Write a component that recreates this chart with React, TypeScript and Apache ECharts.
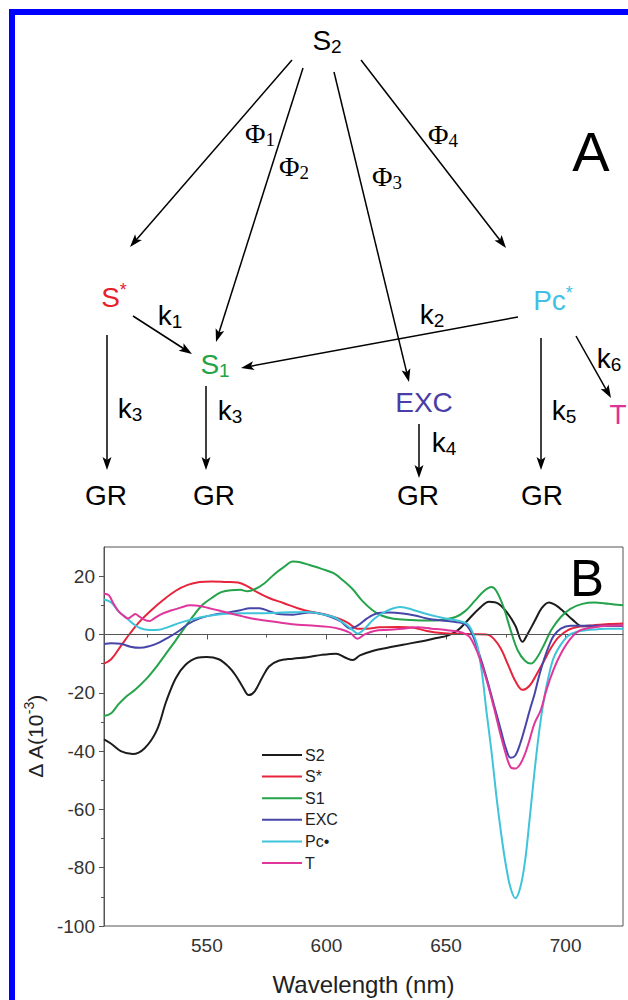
import React, { useEffect, useRef } from "react";
import * as echarts from "echarts";

// ---------------- chart data (panel B) ----------------
const SERIES_NAMES = ["S2", "S*", "S1", "EXC", "Pc•", "T"];
const SERIES_COLORS = ["#1c1c1c", "#e8243c", "#24a34b", "#4646a8", "#40c4da", "#e0369c"];

const S2_DATA: [number, number][] = [
  [507, -36], [510, -37.5], [514, -40], [519, -41], [524, -39], [529, -33], [533, -23], [537, -15],
  [541, -10.5], [546, -8], [550, -7.7], [555, -8.5], [559, -11], [562, -14], [565, -18], [567.5, -20.8],
  [570, -19.5], [573, -15], [576, -11], [580, -9], [586, -8.3], [592, -7.8], [598, -7], [604, -6.6],
  [608, -8], [611, -8.8], [614, -7.2], [620, -5.5], [626, -4.5], [632, -3.5], [640, -2.3], [646, -1.2],
  [651, -0.3], [655, 1.5], [659, 4.8], [664, 9], [668, 11.2], [672, 10.5], [676, 7], [679, 3],
  [682, -2.5], [684, 0], [687, 4.5], [690, 9], [693, 11], [696, 10], [699, 8], [703, 5], [707, 2.8],
  [712, 2.8], [718, 3], [724, 3],
];
const SSTAR_DATA: [number, number][] = [
  [507, -10], [510, -8.5], [514, -4], [518, 0.5], [522, 4.5], [527, 8.5], [532, 12], [537, 15],
  [542, 17], [547, 18], [552, 18.2], [558, 18], [563, 17.8], [567, 16.5], [571, 14.5], [576, 12.5],
  [582, 10.8], [588, 9], [594, 7.7], [600, 6.8], [605, 5.5], [609, 4], [613, 2], [617, 2], [622, 2.5],
  [630, 2.6], [636, 2.4], [642, 1.2], [648, 0.5], [655, 0.2], [662, 0.1], [667, 0], [670, -1.5],
  [673, -5], [676, -10.5], [679, -16], [682, -19], [685, -17.5], [688, -13.5], [691, -9], [694, -4.5],
  [697, -1], [701, 1.5], [706, 2.7], [712, 3.2], [718, 3.6], [724, 3.8],
];
const S1_DATA: [number, number][] = [
  [507, -28], [510, -27], [513, -24], [516, -21.5], [520, -19], [525, -15], [529, -11], [533, -6.5],
  [537, -2], [540, 1.5], [544, 6], [548, 10], [552, 12.5], [556, 14.5], [560, 15.2], [564, 15.3],
  [567, 14.8], [570, 15.5], [574, 17.5], [578, 20.5], [582, 23], [586, 25], [589, 24.8], [593, 23.8],
  [598, 22.5], [603, 21], [607, 18.5], [611, 15.5], [615, 11.5], [619, 8.5], [623, 6.5], [628, 5.4],
  [635, 5], [642, 4.8], [648, 5], [654, 6], [658, 8], [662, 11.5], [666, 15], [669, 16.3], [671, 15],
  [674, 9.5], [677, 1.5], [680, -5.5], [683, -9], [685.5, -10], [688, -8], [691, -3.5], [694, 1.5],
  [698, 6], [702, 8.8], [707, 10.5], [712, 11], [718, 10.5], [724, 10],
];
const EXC_DATA: [number, number][] = [
  [507, -3.3], [510, -3], [514, -3.2], [518, -4.2], [522, -4.6], [526, -4], [530, -2.8], [534, -1],
  [538, 1], [542, 3.5], [547, 5.5], [553, 6.8], [559, 7.5], [564, 8.3], [568, 9], [572, 9], [576, 8],
  [580, 7], [586, 6.8], [593, 7.5], [598, 7], [602, 6], [606, 4.5], [610, 2], [613, 3], [617, 5.5],
  [621, 7.2], [626, 7.5], [632, 7.2], [637, 6.5], [642, 5.5], [648, 4.8], [654, 4.3], [658, 3.5],
  [661, 0], [664, -7], [667, -15], [670, -24], [673, -33], [675, -39], [677, -42.3], [679, -41.5],
  [681, -37.5], [683, -32], [685, -26], [687, -20.5], [689, -14], [691, -8.5], [693, -4], [695, -0.5],
  [698, 2], [702, 3], [710, 3], [718, 3], [724, 3],
];
const PC_DATA: [number, number][] = [
  [507, 12], [510, 11], [513, 8], [516, 6], [519, 3.8], [522, 2.2], [526, 1.5], [530, 1.6], [534, 2.6],
  [538, 3.8], [543, 5], [548, 6], [554, 6.8], [560, 7.2], [566, 7.3], [572, 7.3], [578, 7.4], [585, 7.6],
  [592, 7.7], [598, 7], [603, 6], [607, 4], [611, 1.5], [613, 0.3], [616, 2], [620, 5.4], [625, 8],
  [631, 9.4], [636, 8.5], [642, 7], [647, 6], [651, 5.3], [656, 4.5], [659, 3.6], [661, 1], [663, -3.5],
  [665, -13], [667, -27], [669, -40], [671, -55], [673, -68], [675, -79], [677, -87], [679, -90.5],
  [681, -87], [683, -78], [685, -63], [687, -47], [689, -33], [691, -22], [693, -14], [695, -8],
  [698, -3.5], [701, -0.5], [705, 1], [710, 1.6], [718, 2], [724, 2],
];
const T_DATA: [number, number][] = [
  [507, 14], [509, 13.5], [511, 10.5], [513, 8], [515, 6.5], [517, 5.5], [519, 6.5], [520, 7], [522, 6],
  [524, 5], [526, 4.6], [528, 5.5], [531, 7], [535, 8.2], [539, 9.2], [543, 10], [547, 9.8], [551, 9],
  [555, 8.2], [560, 7.2], [565, 6.2], [570, 5.3], [575, 4.7], [581, 4], [588, 3.3], [595, 3], [601, 2.6],
  [606, 1.8], [610, 0.5], [613, -1.5], [616, 0], [620, 1.2], [626, 1.6], [632, 2], [638, 2.5], [644, 2],
  [650, 1.5], [655, 1], [658, 0.2], [660, -1], [662, -4], [664, -8], [667, -15.8], [670, -25], [673, -35],
  [675, -41], [677, -45.5], [679, -46], [681, -44.5], [683, -41], [685, -36], [687, -30.5], [689.6, -26],
  [692, -19], [695, -12], [698, -6.6], [702, -1.5], [706, 1.4], [712, 2.5], [718, 3], [724, 3.1],
];
const ALL_DATA = [S2_DATA, SSTAR_DATA, S1_DATA, EXC_DATA, PC_DATA, T_DATA];

const X_MIN = 507;
const X_MAX = 724;
const Y_MIN = -100;
const Y_MAX = 30;
const X_LABELS = [550, 600, 650, 700];
const X_MINOR = [525, 575, 625, 675];
const Y_LABELS = [-100, -80, -60, -40, -20, 0, 20];
const Y_MINOR = [-90, -70, -50, -30, -10, 10];

// ---------------- scheme (panel A) ----------------
type Lbl = { main: string; sub?: string; sup?: string; x: number; y: number; color: string; serif?: boolean };
const SCHEME_LABELS: Lbl[] = [
  { main: "S", sub: "2", x: 327, y: 40, color: "#000" },
  { main: "Φ", sub: "1", x: 260, y: 133, color: "#000", serif: true },
  { main: "Φ", sub: "2", x: 294, y: 166, color: "#000", serif: true },
  { main: "Φ", sub: "3", x: 387, y: 176, color: "#000", serif: true },
  { main: "Φ", sub: "4", x: 443, y: 134, color: "#000", serif: true },
  { main: "S", sup: "*", x: 114, y: 297, color: "#e8202c" },
  { main: "k", sub: "1", x: 170, y: 315, color: "#000" },
  { main: "S", sub: "1", x: 215, y: 364, color: "#1ea345" },
  { main: "k", sub: "2", x: 432, y: 314, color: "#000" },
  { main: "Pc", sup: "*", x: 553, y: 300, color: "#42bfe6" },
  { main: "k", sub: "6", x: 609, y: 358, color: "#000" },
  { main: "T", x: 618, y: 414, color: "#e0309a" },
  { main: "EXC", x: 424, y: 402, color: "#4a3ea6" },
  { main: "k", sub: "3", x: 130, y: 408, color: "#000" },
  { main: "k", sub: "3", x: 230, y: 410, color: "#000" },
  { main: "k", sub: "4", x: 444, y: 442, color: "#000" },
  { main: "k", sub: "5", x: 564, y: 410, color: "#000" },
  { main: "GR", x: 106, y: 495, color: "#000" },
  { main: "GR", x: 214, y: 495, color: "#000" },
  { main: "GR", x: 418, y: 495, color: "#000" },
  { main: "GR", x: 542, y: 495, color: "#000" },
];
const SCHEME_ARROWS: [number, number, number, number][] = [
  [292, 60, 130, 247],
  [303, 68, 216, 342],
  [334, 72, 409, 382],
  [361, 60, 506, 248],
  [133, 316, 192, 354],
  [518, 317, 241, 368],
  [107, 335, 107, 470],
  [206, 386, 206, 470],
  [419, 424, 419, 478],
  [541, 338, 541, 470],
  [576, 336, 611, 398],
];

function labelElement(l: Lbl) {
  const fam = l.serif ? "Liberation Serif" : "Liberation Sans";
  let text = "{m|" + l.main + "}";
  if (l.sub) text += "{b|" + l.sub + "}";
  if (l.sup) text += "{p|" + l.sup + "}";
  return {
    type: "text",
    x: l.x,
    y: l.y,
    silent: true,
    style: {
      text,
      fill: l.color,
      align: "center",
      verticalAlign: "middle",
      rich: {
        m: { fontSize: 28, fontFamily: fam, lineHeight: 32, verticalAlign: "middle", fill: l.color },
        b: { fontSize: 19, fontFamily: fam, lineHeight: 12, verticalAlign: "bottom", fill: l.color },
        p: { fontSize: 18, fontFamily: fam, lineHeight: 24, verticalAlign: "top", fill: l.color },
      },
    },
  };
}

function arrowElements(a: [number, number, number, number]) {
  const [x1, y1, x2, y2] = a;
  const dx = x2 - x1;
  const dy = y2 - y1;
  const len = Math.sqrt(dx * dx + dy * dy);
  const ux = dx / len;
  const uy = dy / len;
  const L = 13;
  const W = 4.5;
  const bx = x2 - ux * L;
  const by = y2 - uy * L;
  return [
    {
      type: "line",
      silent: true,
      shape: { x1, y1, x2: x2 - ux * 6, y2: y2 - uy * 6 },
      style: { stroke: "#000", lineWidth: 1.5 },
    },
    {
      type: "polygon",
      silent: true,
      shape: {
        points: [
          [x2, y2],
          [bx - uy * W, by + ux * W],
          [bx + ux * 3, by + uy * 3],
          [bx + uy * W, by - ux * W],
        ],
      },
      style: { fill: "#000" },
    },
  ];
}

export default function App() {
  const ref = useRef<HTMLDivElement>(null);

  useEffect(() => {
    if (!ref.current) return;
    const chart = echarts.init(ref.current, null, { renderer: "svg" });

    const graphics: any[] = [
      {
        type: "rect",
        silent: true,
        shape: { x: 12, y: 12, width: 700, height: 1100 },
        style: { fill: "none", stroke: "#0000ff", lineWidth: 6 },
      },
      {
        type: "text",
        x: 591,
        y: 151,
        silent: true,
        style: {
          text: "A",
          fontSize: 56,
          fontFamily: "Liberation Sans",
          fill: "#000",
          align: "center",
          verticalAlign: "middle",
        },
      },
      {
        type: "text",
        x: 587,
        y: 578,
        silent: true,
        z: 10,
        style: {
          text: "B",
          fontSize: 51,
          fontFamily: "Liberation Sans",
          fill: "#000",
          align: "center",
          verticalAlign: "middle",
        },
      },
    ];
    SCHEME_ARROWS.forEach((a) => graphics.push(...arrowElements(a)));
    SCHEME_LABELS.forEach((l) => graphics.push(labelElement(l)));

    const axisLineStyle = { color: "#555", width: 1 };
    const labelStyle = { color: "#333", fontSize: 19, fontFamily: "Liberation Sans" };

    const option: any = {
      animation: false,
      backgroundColor: "#ffffff",
      grid: {
        left: 104,
        right: 5,
        top: 547,
        bottom: 74,
        show: true,
        borderColor: "#555",
        borderWidth: 1,
        backgroundColor: "transparent",
      },
      legend: {
        orient: "vertical",
        left: 256,
        top: 742,
        itemWidth: 40,
        itemHeight: 14,
        itemGap: 5.6,
        data: SERIES_NAMES,
        lineStyle: { width: 2, opacity: 1 },
        itemStyle: { opacity: 0, borderWidth: 0 },
        textStyle: { fontSize: 16, color: "#222", fontFamily: "Liberation Sans", padding: [0, 0, 0, -2] },
        selectedMode: false,
      },
      xAxis: [
        {
          type: "value",
          min: X_MIN,
          max: X_MAX,
          position: "bottom",
          name: "Wavelength (nm)",
          nameLocation: "middle",
          nameGap: 46,
          nameTextStyle: { fontSize: 24, color: "#222", fontFamily: "Liberation Sans" },
          axisLine: { show: true, lineStyle: axisLineStyle },
          axisTick: { show: true, length: 5, lineStyle: axisLineStyle, customValues: X_LABELS },
          axisLabel: { ...labelStyle, margin: 10, customValues: X_LABELS },
          splitLine: { show: false },
        },
        {
          type: "value",
          min: X_MIN,
          max: X_MAX,
          position: "bottom",
          axisLine: { show: false },
          axisTick: { show: true, length: 3, lineStyle: axisLineStyle, customValues: X_MINOR },
          axisLabel: { show: false },
          splitLine: { show: false },
        },
      ],
      yAxis: [
        {
          type: "value",
          min: Y_MIN,
          max: Y_MAX,
          position: "left",
          name: "{n|Δ A(10}{s|-3}{n|)}",
          nameLocation: "middle",
          nameRotate: 90,
          nameGap: 52,
          nameTextStyle: {
            color: "#222",
            rich: {
              n: { fontSize: 21, fontFamily: "Liberation Sans", lineHeight: 28, verticalAlign: "middle", color: "#222" },
              s: { fontSize: 14, fontFamily: "Liberation Sans", lineHeight: 14, verticalAlign: "top", color: "#222" },
            },
          },
          axisLine: { show: true, lineStyle: axisLineStyle },
          axisTick: { show: true, length: 5, lineStyle: axisLineStyle, customValues: Y_LABELS },
          axisLabel: { ...labelStyle, margin: 9, customValues: Y_LABELS },
          splitLine: { show: false },
        },
        {
          type: "value",
          min: Y_MIN,
          max: Y_MAX,
          position: "left",
          axisLine: { show: false },
          axisTick: { show: true, length: 3, lineStyle: axisLineStyle, customValues: Y_MINOR },
          axisLabel: { show: false },
          splitLine: { show: false },
        },
      ],
      series: ALL_DATA.map((d, i) => ({
        name: SERIES_NAMES[i],
        type: "line",
        data: d,
        xAxisIndex: 0,
        yAxisIndex: 0,
        symbol: "none",
        smooth: 0.35,
        color: SERIES_COLORS[i],
        lineStyle: { color: SERIES_COLORS[i], width: 2 },
        itemStyle: { color: SERIES_COLORS[i] },
        z: 2 + i,
        markLine:
          i === 0
            ? {
                silent: true,
                symbol: ["none", "none"],
                label: { show: false },
                lineStyle: { color: "#555", width: 1.2, type: "solid" },
                data: [{ yAxis: 0 }],
              }
            : undefined,
      })),
      graphic: { elements: graphics },
    };

    chart.setOption(option);
    return () => chart.dispose();
  }, []);

  return (
    <div
      ref={ref}
      style={{ position: "absolute", left: 0, top: 0, width: 628, height: 1000, background: "#fff" }}
    />
  );
}
